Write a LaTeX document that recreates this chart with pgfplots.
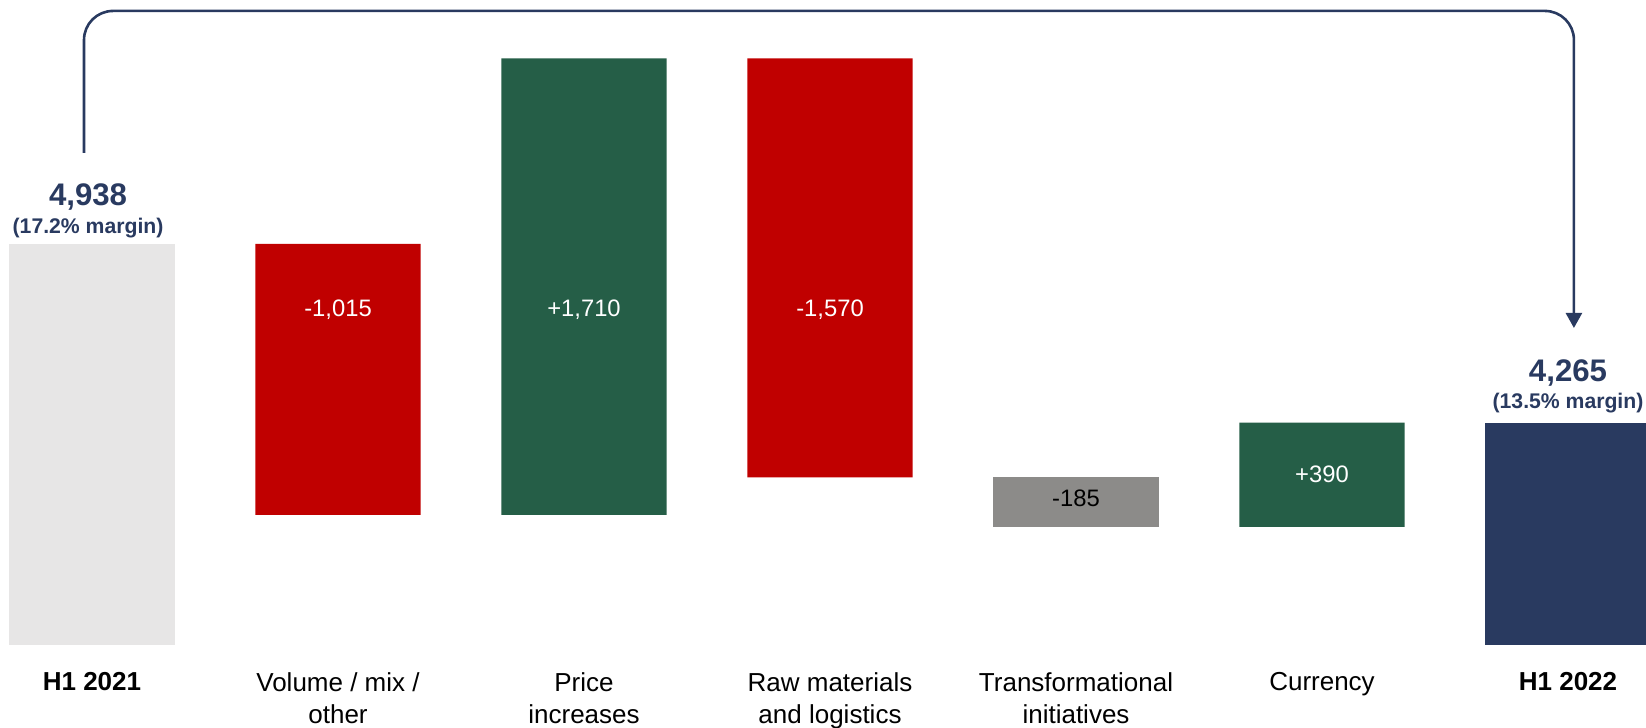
\documentclass[border=0pt]{standalone}
\usepackage{fontspec}
\setmainfont{Liberation Sans}
\usepackage{pgfplots}
\pgfplotsset{compat=1.18}
\usepackage{pgfplotstable}
\usetikzlibrary{arrows.meta}
\definecolor{startgray}{HTML}{E7E6E6}
\definecolor{negred}{HTML}{C00000}
\definecolor{posgreen}{HTML}{255E47}
\definecolor{midgray}{HTML}{8C8B89}
\definecolor{navy}{HTML}{293A60}

\pgfplotstableread{
x base start neg pos mid final
0 0    4938 0    0    0   0
1 3923 0    1015 0    0   0
2 3923 0    0    1710 0   0
3 4063 0    1570 0    0   0
4 3878 0    0    0    185 0
5 3878 0    0    390  0   0
6 0    0    0    0    0   4265
}\bars

\pgfplotsset{wfbase/.style={at={(0,0)}, anchor=south west, scale only axis,
  width=823pt, height=322.5pt, xmin=-0.374, xmax=6.317, ymin=3435, ymax=5852,
  axis line style={draw=none}, major tick length=0pt, ytick=\empty}}

\begin{document}
\begin{tikzpicture}
\begin{axis}[wfbase, ybar stacked, bar width=0.671,
  xtick={0,1,2,3,4,5,6},
  xticklabels={\textbf{H1 2021}, Volume / mix /\\other, Price\\increases, Raw materials\\and logistics, Transformational\\initiatives, Currency, \textbf{H1 2022}},
  xticklabel style={anchor=north, yshift=-13.6pt, align=center, inner sep=0pt, font=\fontsize{13}{15.8}\selectfont}]
\addplot[draw=none, fill=none] table[x=x,y=base]{\bars};
\addplot[draw=none, fill=startgray] table[x=x,y=start]{\bars};
\addplot[draw=none, fill=negred] table[x=x,y=neg]{\bars};
\addplot[draw=none, fill=posgreen] table[x=x,y=pos]{\bars};
\addplot[draw=none, fill=midgray] table[x=x,y=mid]{\bars};
\addplot[draw=none, fill=navy] table[x=x,y=final]{\bars};
\end{axis}
\begin{axis}[wfbase, xtick=\empty, clip=false]
\addplot[draw=none, nodes near coords, point meta=explicit symbolic,
  nodes near coords style={anchor=center, inner sep=0pt, text=white, font=\fontsize{11.9}{14}\selectfont}]
  table[meta=lab]{
x y lab
1 4691 -1,015
2 4691 +1,710
3 4691 -1,570
5 4076 +390
};
\addplot[draw=none, nodes near coords, point meta=explicit symbolic,
  nodes near coords style={anchor=center, inner sep=0pt, text=black, font=\fontsize{11.9}{14}\selectfont}]
  table[meta=lab]{
x y lab
4 3985 -185
};
\addplot[draw=none, nodes near coords, point meta=explicit symbolic,
  nodes near coords style={anchor=center, inner sep=0pt, text=navy, font=\bfseries\fontsize{15.6}{18}\selectfont}]
  table[meta=lab]{
x y lab
-0.016 5114 4,938
6.0 4455 4,265
};
\addplot[draw=none, nodes near coords, point meta=explicit symbolic,
  nodes near coords style={anchor=center, inner sep=0pt, text=navy, font=\bfseries\fontsize{10.6}{12}\selectfont}]
  table[meta=lab]{
x y lab
-0.016 4998 {(17.2\% margin)}
6.0 4342 {(13.5\% margin)}
};
\draw[navy, line width=1.3pt, rounded corners=14.5pt, -{Triangle[width=8pt,length=7.5pt]}]
  (axis cs:-0.0325,5279) |- (axis cs:6.024,5811) -- (axis cs:6.024,4623);
\end{axis}
\pgfresetboundingbox
\path[use as bounding box] (0,-41.5pt) rectangle (823pt,322.5pt);
\end{tikzpicture}
\end{document}
